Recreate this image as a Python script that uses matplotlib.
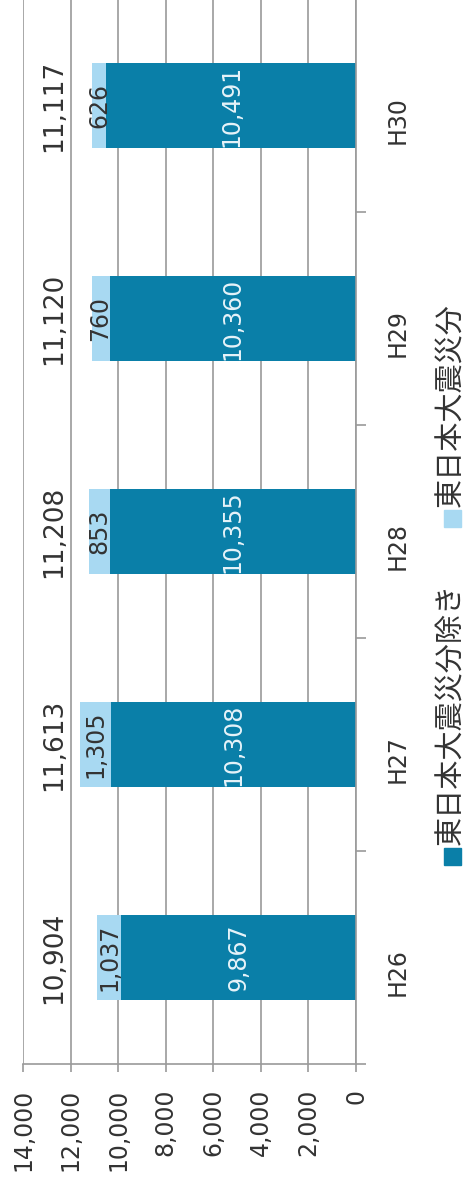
"""Rotated stacked bar chart: 東日本大震災分 vs the rest, H26-H30."""

import numpy as np
import matplotlib
matplotlib.use('Agg')
import matplotlib.pyplot as plt
from matplotlib.patches import Rectangle

plt.rcParams['font.family'] = ['DejaVu Sans', 'Noto Sans CJK JP']

# Data
years = ['H26', 'H27', 'H28', 'H29', 'H30']
excl_quake = [9867, 10308, 10355, 10360, 10491]
quake = [1037, 1305, 853, 760, 626]
totals = [10904, 11613, 11208, 11120, 11117]
value_ticks = [0, 2000, 4000, 6000, 8000, 10000, 12000, 14000]
legend_labels = ['東日本大震災分除き', '東日本大震災分']

dark = '#0A7FA8'
light = '#A8D9F2'
grey = '#9A9A9A'

W, H = 469, 1185
fig = plt.figure(figsize=(W / 100, H / 100), dpi=100)
# axes box in pixels: x 23..356, y (from top) -1..1064
ax = fig.add_axes([23 / W, (H - 1064) / H, (356 - 23) / W, 1065 / H])

pos = np.arange(len(years))
ax.barh(pos, excl_quake, height=0.4, color=dark, zorder=2)
ax.barh(pos, quake, left=excl_quake, height=0.4, color=light, zorder=2)

# value labels, rotated like the rest of the chart
for p, a, b, t in zip(pos, excl_quake, quake, totals):
    ax.text(a / 2, p, '{:,}'.format(a), rotation=90, ha='center', va='center',
            fontsize=17, color='#E6F3F9', zorder=3)
    ax.text(a + b / 2, p, '{:,}'.format(b), rotation=90, ha='center', va='center',
            fontsize=17, color='#333333', zorder=3)
    ax.text(12700, p, '{:,}'.format(t), rotation=90, ha='center', va='center',
            fontsize=19, color='#333333', zorder=3)

ax.set_xlim(14000, 0)
ax.set_ylim(-0.5, len(years) - 0.5)
ax.set_xticks(value_ticks, labels=['{:,}'.format(v) for v in value_ticks])
ax.tick_params(axis='x', labelrotation=90, labelsize=17, length=6, width=1.2,
               color=grey, pad=12, labelcolor='#333333')
ax.grid(axis='x', color=grey, linewidth=1.2, zorder=0)
ax.set_axisbelow(True)

ax.yaxis.tick_right()
ax.set_yticks(pos, labels=years)
ax.set_yticks(np.arange(-0.5, len(years), 1), minor=True)
ax.tick_params(axis='y', which='major', length=0, labelrotation=90,
               labelsize=17, pad=21, labelcolor='#333333')
ax.tick_params(axis='y', which='minor', length=7, width=1.2, color=grey,
               right=True, left=False)

for side in ['top', 'left']:
    ax.spines[side].set_visible(False)
for side in ['right', 'bottom']:
    ax.spines[side].set_color(grey)
    ax.spines[side].set_linewidth(1.2)

# legend drawn by hand so it can be rotated
legend_y = [856, 518]   # marker centres, pixels from top
for lab, col, yy in zip(legend_labels, [dark, light], legend_y):
    fig.add_artist(Rectangle(((452 - 8.5) / W, (H - yy - 8.5) / H), 17 / W, 17 / H,
                             transform=fig.transFigure, color=col))
    fig.text(451 / W, (H - yy + 11) / H, lab, rotation=90, ha='center',
             va='bottom', fontsize=21, color='#333333')

fig.savefig('out.png', dpi=100)
